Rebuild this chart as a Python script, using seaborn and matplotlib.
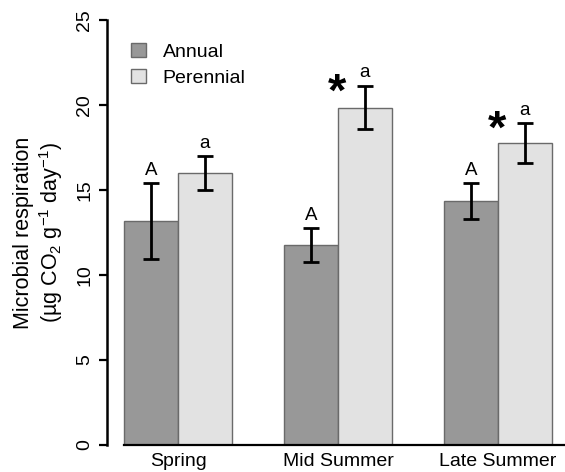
import matplotlib
matplotlib.use("Agg")
import matplotlib.pyplot as plt
import seaborn as sns
import pandas as pd

# values (mean and half error bar)
seasons = ["Spring", "Mid Summer", "Late Summer"]
types = ["Annual", "Perennial"]
annual_mean = [13.18, 11.76, 14.35]
annual_err = [2.23, 0.99, 1.07]
perennial_mean = [16.0, 19.85, 17.75]
perennial_err = [1.0, 1.29, 1.17]
annual_letters = ["A", "A", "A"]
perennial_letters = ["a", "a", "a"]
significant = [False, True, True]

df = pd.DataFrame({
    "season": seasons * 2,
    "type": ["Annual"] * 3 + ["Perennial"] * 3,
    "resp": annual_mean + perennial_mean,
    "err": annual_err + perennial_err,
})

sns.set_style("ticks", rc={"axes.edgecolor": "black", "text.color": "black",
                           "axes.labelcolor": "black", "xtick.color": "black",
                           "ytick.color": "black"})
plt.rcParams["font.family"] = ["Liberation Sans", "DejaVu Sans"]
plt.rcParams["mathtext.default"] = "regular"

fig = plt.figure(figsize=(5.65, 4.72), dpi=100)
ax = fig.add_axes([107 / 565, 27 / 472, 458 / 565, 425 / 472])

bar_width = 0.67
sns.barplot(data=df, x="season", y="resp", hue="type", hue_order=types,
            palette=["#989898", "#e2e2e2"], width=bar_width, errorbar=None,
            edgecolor="#6a6a6a", linewidth=1.0, saturation=1, ax=ax)

# error bars + letters
letters = [annual_letters, perennial_letters]
errs = [annual_err, perennial_err]
means = [annual_mean, perennial_mean]
bar_groups = list(ax.containers)
for i, cont in enumerate(bar_groups):
    for j, bar in enumerate(cont):
        xc = bar.get_x() + bar.get_width() / 2
        ax.errorbar(xc, means[i][j], yerr=errs[i][j], color="black",
                    elinewidth=2.0, capsize=6, capthick=2.0, zorder=3)
        top = means[i][j] + errs[i][j]
        ax.annotate(letters[i][j], (xc, top), xytext=(0, 3),
                    textcoords="offset points", ha="center", va="bottom",
                    fontsize=13.5)
        if i == 1 and significant[j]:
            ax.annotate("*", (bar.get_x(), top), xytext=(-0.5, -5.5),
                        textcoords="offset points", ha="center",
                        va="center", fontsize=34, fontweight="bold")

ax.set_ylim(0, 25)
ax.set_xlim(-0.444, 2.419)
ax.set_yticks([0, 5, 10, 15, 20, 25])
ax.set_xlabel("")
ax.set_ylabel("Microbial respiration\n(\u00b5g CO$_2$ g$^{-1}$ day$^{-1}$)",
              fontsize=15.5, labelpad=8, linespacing=1.15)

ax.tick_params(axis="y", length=6, width=1.6, labelsize=14, pad=4,
               labelrotation=90)
for lab in ax.get_yticklabels():
    lab.set_va("center")
ax.tick_params(axis="x", length=0, labelsize=14, pad=6)

sns.despine(ax=ax)
ax.spines["left"].set_linewidth(1.8)
ax.spines["bottom"].set_linewidth(1.6)
ax.spines["bottom"].set_bounds(-bar_width / 2, 2.419)

sns.move_legend(ax, "upper left", bbox_to_anchor=(0.015, 0.988),
                frameon=False, title=None, fontsize=14,
                handlelength=0.75, handleheight=0.75, handletextpad=0.85,
                labelspacing=0.45)

fig.savefig("out.png", dpi=100)
